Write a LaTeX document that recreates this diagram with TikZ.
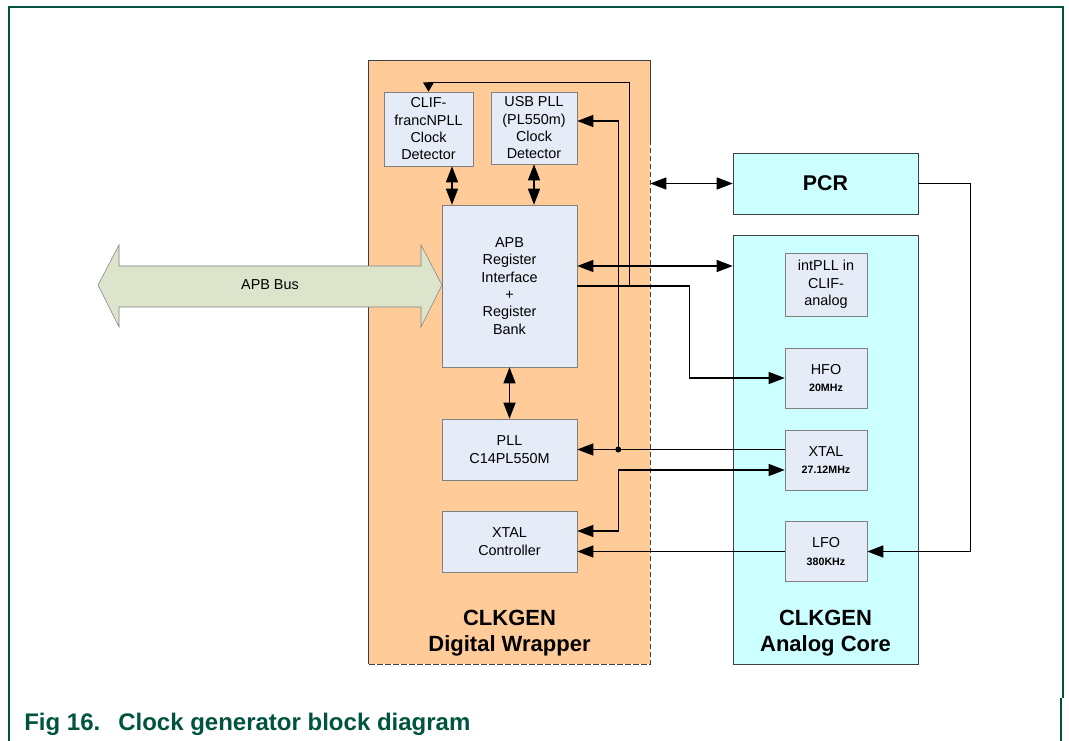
\documentclass[tikz,border=0pt]{standalone}
\usepackage{fontspec}
\setmainfont{Liberation Sans}
\usetikzlibrary{arrows.meta,calc,positioning}
\definecolor{wrapfill}{HTML}{FFCC99}
\definecolor{corefill}{HTML}{CCFFFF}
\definecolor{blkfill}{HTML}{E6ECF7}
\definecolor{busfill}{HTML}{DDE4CC}
\definecolor{figgreen}{HTML}{00543F}
\newcommand{\oscfreq}[1]{{\bfseries\fontsize{8}{9}\selectfont #1}}

\begin{document}
\begin{tikzpicture}
   		[x=0.75pt,y=-0.75pt,
   		every node/.style={inner sep=0pt,align=center,
   			font=\fontsize{10.8}{13}\selectfont},
   		blk/.style={shape=rectangle,draw=black!50,fill=blkfill,
   			minimum width=101.25pt,minimum height=45.75pt},
   		osc/.style={blk,minimum width=61.5pt,minimum height=45pt},
   		core/.style={shape=rectangle,draw=black!75,fill=corefill,
   			minimum width=138.75pt},
   		sig/.style={-{Triangle[length=12pt,width=9pt]},line width=0.9pt},
   		bisig/.style={{Triangle[length=12pt,width=9pt]}-{Triangle[length=12pt,width=9pt]},
   			line width=0.9pt},
   		lbl/.style={font=\bfseries\fontsize{16.5}{20}\selectfont}]
   		\useasboundingbox (0,0) rectangle (1069,741);
   		\draw[figgreen,line width=1.1pt] (9,741) -- (9,7) -- (1063,7) -- (1063,698);
   		\draw[figgreen,line width=1.1pt] (1061,698) -- (1061,741);
   		\node[anchor=west,text=figgreen,font=\bfseries\fontsize{18}{20}\selectfont] (cap)
   			at (24,724) {Fig 16.\hspace{0.75em}Clock generator block diagram};
   		
   		\node[fill=wrapfill,minimum width=210.75pt,minimum height=452.25pt] (wrap) at (509.5,362.5) {};
   		\draw[black!75] (wrap.south west) -- (wrap.north west) -- (wrap.north east)
   			-- ($(wrap.north east)+(0,79)$) coordinate (wrapd);
   		\draw[black!75,dash pattern=on 4pt off 2pt] (wrapd) -- (wrap.south east) -- (wrap.south west);
   		\node[lbl] (wraplbl) at (509.5,633) {CLKGEN\\Digital Wrapper};
   		
   		\draw[black!50,fill=busfill] (98,285) -- (119,245) -- (119,266) -- (421,266) -- (421,245)
   			-- (442,285) -- (421,327) -- (421,307) -- (119,307) -- (119,327) -- cycle;
   		\node (bus) at (270,285) {APB Bus};
   		
   		\node[blk,minimum width=66.75pt,minimum height=55.5pt] (clif) at (428.5,129) {CLIF-\\francNPLL\\Clock\\Detector};
   		\node[blk,minimum width=64.5pt,minimum height=54pt] (usb) at (534,128) {USB PLL\\(PL550m)\\Clock\\Detector};
   		\node[blk,minimum height=121.5pt] (apb) at (509.5,286) {APB\\Register\\Interface\\+\\Register\\Bank};
   		\node[blk] (pll) at (509.5,449.5) {PLL\\C14PL550M};
   		\node[blk] (xctl) at (509.5,541.5) {XTAL\\Controller};
   		
   		\node[core,minimum height=45.75pt,font=\bfseries\fontsize{16}{18}\selectfont] (pcr) at (825.5,183.5) {PCR};
   		\node[core,minimum height=321.75pt] (acore) at (825.5,449.5) {};
   		\node[lbl] (acorelbl) at (825.5,633) {CLKGEN\\Analog Core};
   		\node[osc,minimum height=47.25pt] (intpll) at (826,284.5) {intPLL in\\CLIF-\\analog};
   		\node[osc] (hfo) at (826,378) {HFO\\\oscfreq{20MHz}};
   		\node[osc] (xtal) at (826,460) {XTAL\\\oscfreq{27.12MHz}};
   		\node[osc] (lfo) at (826,551.5) {LFO\\\oscfreq{380KHz}};
   		
   		\draw[bisig] ($(clif.south)+(23.5,0)$) coordinate (c1) -- (c1 |- apb.north);
   		\draw[bisig] (usb.south) -- (usb.south |- apb.north);
   		\draw[bisig] (apb.south) -- (pll.north);
   		\draw[bisig] (wrap.east |- pcr.west) -- (pcr.west);
   		\draw[bisig] ($(apb.east)+(0,-20)$) coordinate (c2) -- (c2 -| acore.west);
   		
   		\draw[sig] (apb.east) -| ($(hfo.west)+(-95,0)$) -- (hfo.west);
   		\draw[-{Triangle[length=7pt,width=8pt]},line width=0.9pt]
   			($(apb.east)+(52,0)$) |- ($(clif.north)+(0,-9)$) -- (clif.north);
   		
   		\node[circle,fill,minimum size=4.5pt] (dot) at ($(pll.east)+(41,0)$) {};
   		\draw[sig] (xtal.west |- pll.east) -- (pll.east);
   		\draw[sig] (dot.center) |- ($(usb.east)+(0,-7)$);
   		\draw[bisig] ($(xctl.east)+(0,-10.5)$) -- ++(41,0) |- ($(xtal.west)+(0,10)$);
   		\draw[sig] (lfo.west) -- (lfo.west -| xctl.east);
   		\draw[sig] (pcr.east) -- ++(52,0) |- (lfo.east);
   		\end{tikzpicture}
\end{document}
